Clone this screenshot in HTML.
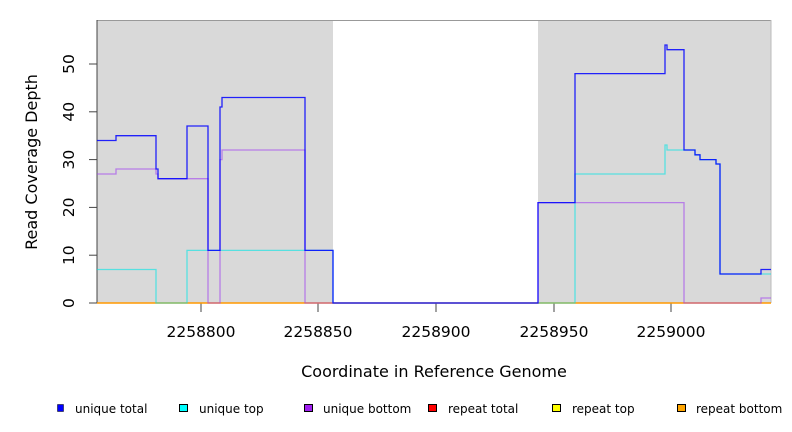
<!DOCTYPE html>
<html><head><meta charset="utf-8"><style>
body{margin:0;background:#fff;}
svg{display:block;font-family:"DejaVu Sans","Liberation Sans",sans-serif;}
</style></head><body>
<svg width="792" height="432" viewBox="0 0 792 432" xmlns="http://www.w3.org/2000/svg">
<rect x="97" y="20" width="236" height="283" fill="#d9d9d9"/>
<rect x="538" y="20" width="233" height="283" fill="#d9d9d9"/>
<line x1="97" y1="20.5" x2="771" y2="20.5" stroke="#999" stroke-width="1"/>
<line x1="771" y1="20" x2="771" y2="303" stroke="#bbb" stroke-width="1"/>
<line x1="97" y1="20" x2="97" y2="303" stroke="#444" stroke-width="1"/>
<g stroke="#444" stroke-width="1">
<line x1="89" y1="303" x2="97" y2="303"/><line x1="89" y1="255.2" x2="97" y2="255.2"/>
<line x1="89" y1="207.4" x2="97" y2="207.4"/><line x1="89" y1="159.6" x2="97" y2="159.6"/>
<line x1="89" y1="111.8" x2="97" y2="111.8"/><line x1="89" y1="64" x2="97" y2="64"/>
<line x1="201" y1="303" x2="201" y2="312"/><line x1="318" y1="303" x2="318" y2="312"/>
<line x1="436" y1="303" x2="436" y2="312"/><line x1="554" y1="303" x2="554" y2="312"/>
<line x1="671" y1="303" x2="671" y2="312"/>
</g>
<g font-size="15.5" fill="#000" text-anchor="middle">
<text transform="translate(74,303) rotate(-90)">0</text>
<text transform="translate(74,255.2) rotate(-90)">10</text>
<text transform="translate(74,207.4) rotate(-90)">20</text>
<text transform="translate(74,159.6) rotate(-90)">30</text>
<text transform="translate(74,111.8) rotate(-90)">40</text>
<text transform="translate(74,64) rotate(-90)">50</text>
<text x="201" y="337">2258800</text><text x="318" y="337">2258850</text>
<text x="436" y="337">2258900</text><text x="554" y="337">2258950</text>
<text x="671" y="337">2259000</text>
<text x="434" y="377" font-size="16">Coordinate in Reference Genome</text>
<text transform="translate(37,162) rotate(-90)" font-size="16">Read Coverage Depth</text>
</g>
<line x1="97" y1="303" x2="771" y2="303" stroke="#ff9900" stroke-width="1.5"/>
<g fill="none" stroke-width="1.3">
<polyline stroke="#00e5e5" opacity="0.6" points="97,269.5 156,269.5 156,303 187,303 187,250.4 333,250.4 333,303 575,303 575,174 665,174 665,145 667,145 667,150 684,150 695,150 695,155 700,155 700,159.6 716,159.6 716,164 720,164 720,274 771,274"/>
<polyline stroke="#a040f0" opacity="0.6" points="97,174 116,174 116,169 156,169 156,174 158,174 158,178.7 208,178.7 208,303 220,303 220,159.6 222,159.6 222,150 305,150 305,303 538,303 538,202.6 684,202.6 684,303 761,303 761,298 771,298"/>
<polyline stroke="#0000ff" opacity="0.85" points="97,140.5 116,140.5 116,135.7 156,135.7 156,169 158,169 158,178.7 187,178.7 187,126 208,126 208,250.4 220,250.4 220,107 222,107 222,97.5 305,97.5 305,250.4 333,250.4 333,303 538,303 538,202.6 575,202.6 575,73.6 665,73.6 665,45 667,45 667,49.7 684,49.7 684,150 695,150 695,154.8 700,154.8 700,159.6 716,159.6 716,164 720,164 720,274 761,274 761,269.5 771,269.5"/>
</g>
<g font-size="12" fill="#000">
<rect x="57.5" y="404.5" width="6" height="7" fill="#0000ff" stroke="#000" stroke-width="0.5"/><text x="75" y="413">unique total</text>
<rect x="179.5" y="404.5" width="8" height="7" fill="#00ffff" stroke="#000"/><text x="199" y="413">unique top</text>
<rect x="304.5" y="404.5" width="8" height="7" fill="#a020f0" stroke="#000"/><text x="323" y="413">unique bottom</text>
<rect x="428.5" y="404.5" width="8" height="7" fill="#ff0000" stroke="#000"/><text x="448" y="413">repeat total</text>
<rect x="552.5" y="404.5" width="8" height="7" fill="#ffff00" stroke="#000"/><text x="572" y="413">repeat top</text>
<rect x="677.5" y="404.5" width="8" height="7" fill="#ffa500" stroke="#000"/><text x="696" y="413">repeat bottom</text>
</g>
</svg>
</body></html>
